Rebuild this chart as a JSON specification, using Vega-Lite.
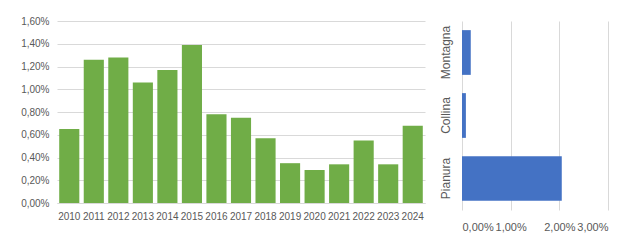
{
  "$schema": "https://vega.github.io/schema/vega-lite/v6.json",
  "background": "white",
  "padding": {"left": 20, "top": 16, "right": 5, "bottom": 5},
  "spacing": 13,
  "config": {
    "locale": {"number": {"decimal": ",", "thousands": ".", "grouping": [3], "currency": ["", " €"]}},
    "view": {"stroke": null},
    "font": "Liberation Sans",
    "axis": {"labelFont": "Liberation Sans", "labelFontSize": 10, "labelColor": "#595959", "gridColor": "#D9D9D9", "domainColor": "#D9D9D9", "ticks": false, "title": null}
  },
  "hconcat": [
    {
      "width": 368,
      "height": 182,
      "data": {"values": [
        {"anno": "2010", "valore": 0.0065},
        {"anno": "2011", "valore": 0.0126},
        {"anno": "2012", "valore": 0.0128},
        {"anno": "2013", "valore": 0.0106},
        {"anno": "2014", "valore": 0.0117},
        {"anno": "2015", "valore": 0.0139},
        {"anno": "2016", "valore": 0.0078},
        {"anno": "2017", "valore": 0.0075},
        {"anno": "2018", "valore": 0.0057},
        {"anno": "2019", "valore": 0.0035},
        {"anno": "2020", "valore": 0.0029},
        {"anno": "2021", "valore": 0.0034},
        {"anno": "2022", "valore": 0.0055},
        {"anno": "2023", "valore": 0.0034},
        {"anno": "2024", "valore": 0.0068}
      ]},
      "mark": {"type": "bar", "color": "#70AD47"},
      "encoding": {
        "x": {"field": "anno", "type": "ordinal", "scale": {"paddingInner": 0.18, "paddingOuter": 0.09},
              "axis": {"labelAngle": 0, "labelPadding": 8, "domain": true}},
        "y": {"field": "valore", "type": "quantitative", "scale": {"domain": [0, 0.016]},
              "axis": {"format": ".2%", "values": [0, 0.002, 0.004, 0.006, 0.008, 0.01, 0.012, 0.014, 0.016], "domain": false, "labelPadding": 8}}
      }
    },
    {
      "width": 146,
      "height": 189,
      "data": {"values": [
        {"zona": "Montagna", "valore": 0.0018},
        {"zona": "Collina", "valore": 0.0008},
        {"zona": "Pianura", "valore": 0.0205}
      ]},
      "mark": {"type": "bar", "color": "#4472C4"},
      "encoding": {
        "y": {"field": "zona", "type": "nominal", "sort": ["Montagna", "Collina", "Pianura"],
              "scale": {"paddingInner": 0.29, "paddingOuter": 0.145},
              "axis": {"labelAngle": -90, "labelPadding": 10, "domain": false, "labelFontSize": 12}},
        "x": {"field": "valore", "type": "quantitative", "scale": {"domain": [0, 0.03]},
              "axis": {"format": ".2%", "values": [0, 0.01, 0.02, 0.03], "domain": false, "labelPadding": 11, "labelFontSize": 11}}
      }
    }
  ]
}
